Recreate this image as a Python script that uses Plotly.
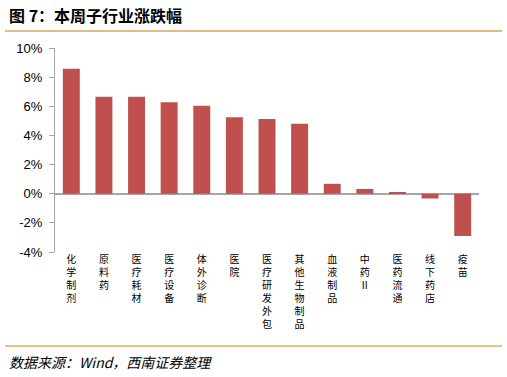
import plotly.graph_objects as go

categories = ["化学制剂", "原料药", "医疗耗材", "医疗设备", "体外诊断", "医院", "医疗研发外包",
              "其他生物制品", "血液制品", "中药Ⅱ", "医药流通", "线下药店", "疫苗"]
values = [8.57, 6.65, 6.65, 6.28, 6.03, 5.25, 5.12, 4.8, 0.68, 0.33, 0.1, -0.33, -2.9]
tick_vals = [-4, -2, 0, 2, 4, 6, 8, 10]
tick_text = ["-4%", "-2%", "0%", "2%", "4%", "6%", "8%", "10%"]

vert = ["<br>".join(list(c)) for c in categories]

fig = go.Figure()
fig.add_trace(go.Bar(x=list(range(len(categories))), y=values, marker_color="#C0504D",
                     marker_line_width=0, width=0.52, hoverinfo="skip"))

W, H = 507, 377
ml, mr, mt, mb = 55, 28, 48, 125
pw = W - ml - mr
ph = H - mt - mb

def px(x):
    return (x - ml) / pw

def py(y):
    return (H - mb - y) / ph

fig.update_layout(
    width=W, height=H,
    margin=dict(l=ml, r=mr, t=mt, b=mb, pad=0),
    paper_bgcolor="white", plot_bgcolor="white",
    showlegend=False,
    font=dict(family="Liberation Sans, Arial", color="black"),
    xaxis=dict(tickmode="array", tickvals=list(range(len(categories))), ticktext=vert,
               range=[-0.5, len(categories) - 0.5], showline=False, showgrid=False,
               zeroline=False, ticks="", tickangle=0,
               tickfont=dict(family="Noto Sans CJK SC", size=10, color="black")),
    yaxis=dict(range=[-4, 10], tickmode="array", tickvals=tick_vals, ticktext=tick_text,
               showgrid=False, zeroline=True, zerolinecolor="#A6A6A6", zerolinewidth=1.5,
               showline=True, linecolor="#A6A6A6", linewidth=1, ticks="outside",
               ticklen=5, tickcolor="#A6A6A6", ticklabelstandoff=4,
               tickfont=dict(family="Liberation Sans, Arial", size=13, color="black")),
    shapes=[
        dict(type="line", xref="paper", yref="paper", x0=px(5), x1=px(502), y0=py(31), y1=py(31),
             line=dict(color="#D9A05B", width=1.5)),
        dict(type="line", xref="paper", yref="paper", x0=px(5), x1=px(502), y0=py(346), y1=py(346),
             line=dict(color="#E8A75A", width=1.5)),
    ],
    annotations=[
        dict(text="<b>图 7：本周子行业涨跌幅</b>", xref="paper", yref="paper", x=px(7), y=py(15),
             xanchor="left", yanchor="middle", showarrow=False,
             font=dict(family="Noto Sans CJK SC", size=16, color="black")),
        dict(text="<i>数据来源：Wind，西南证券整理</i>", xref="paper", yref="paper", x=px(7), y=py(362),
             xanchor="left", yanchor="middle", showarrow=False,
             font=dict(family="Noto Sans CJK SC", size=14, color="black")),
    ],
)

fig.write_html("out.html", config={"displayModeBar": False},
               post_script="document.body.style.margin='0';document.body.style.overflow='hidden';")
